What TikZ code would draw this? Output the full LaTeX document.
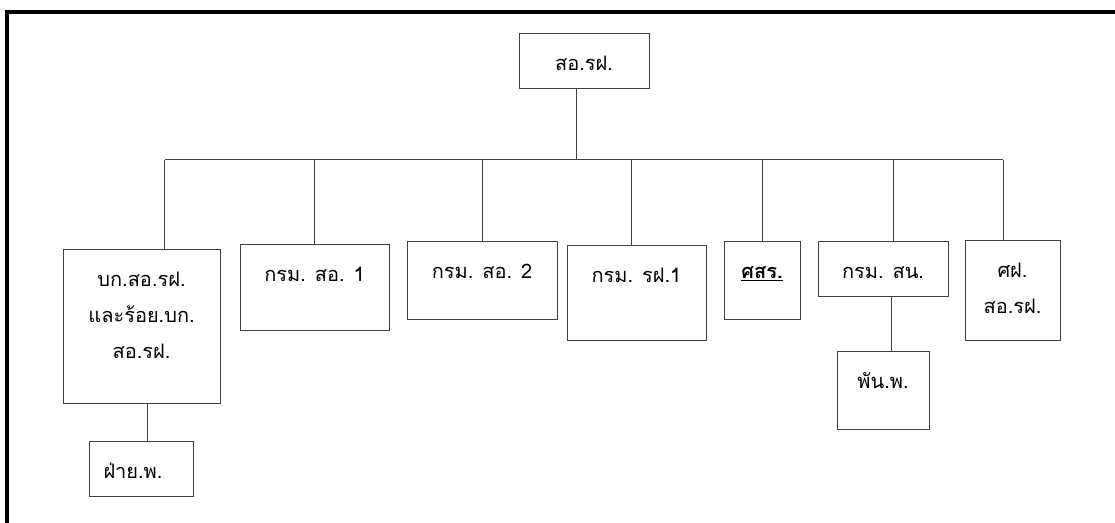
\documentclass[tikz,border=0pt]{standalone}
\usepackage{fontspec}
\newfontfamily\thaifont[Script=Thai]{Loma}
\tikzset{
    box/.style n args={3}{draw=black!75,line width=0.75pt,inner sep=0pt,anchor=north,align=center,
        minimum width=#1*0.75pt,text height=(#3*36+1)*0.75pt,text depth=(#2-#3*36-1)*0.75pt},
    wire/.style={draw=black!75,line width=0.75pt}
}

\begin{document}
\begin{tikzpicture}[x=0.75pt,y=-0.75pt,font=\thaifont\fontsize{15pt}{27pt}\selectfont]
    	\useasboundingbox (0,0) rectangle (1115,523);
    	\draw[line width=3pt] (7,523) -- (7,12) -- (1115,12);

    	\node[box={130}{55}{1}] (top) at (584,33) {สอ.รฝ.};
    	\node[box={157}{154}{3}] (bk) at (141.5,249) {บก.สอ.รฝ.\\และร้อย.บก.\\สอ.รฝ.};
    	\node[box={104}{55}{1}] (fai) at (141,441) {ฝ่าย.พ.\hspace{12pt}};
    	\node[box={149}{86}{1}] (k1) at (314.5,244) {กรม. สอ. 1};
    	\node[box={150}{78}{1}] (k2) at (482,241) {กรม. สอ. 2};
    	\node[box={139}{95}{1}] (r1) at (636.5,245) {กรม. รฝ.1};
    	\node[box={76}{78}{1}] (ssr) at (762,241) {\textbf{\underline{ศสร.}}};
    	\node[box={130}{55}{1}] (sn) at (883,241) {กรม. สน.};
    	\node[box={92}{78}{1}] (pan) at (883,351) {พัน.พ.};
    	\node[box={95}{100}{2}] (sf) at (1012.5,240) {ศฝ.\\สอ.รฝ.};

    	\coordinate (busL) at (165,160);
    	\coordinate (busR) at (1003,160);
    	\draw[wire] (busL) -- (busR);
    	\draw[wire] ([xshift=-6pt]top.south) -- ([xshift=-6pt]top.south |- busL);
    	\foreach \n/\s in {bk/17.6pt,k1/0pt,k2/0pt,r1/-4.1pt,ssr/0pt,sn/7.5pt,sf/-7.1pt}
    	    \draw[wire] ([xshift=\s]\n.north) -- ([xshift=\s]\n.north |- busL);
    	\draw[wire] ([xshift=4.5pt]fai.north) -- ([xshift=4.5pt]fai.north |- bk.south);
    	\draw[wire] ([xshift=6pt]pan.north) -- ([xshift=6pt]pan.north |- sn.south);
\end{tikzpicture}
\end{document}
